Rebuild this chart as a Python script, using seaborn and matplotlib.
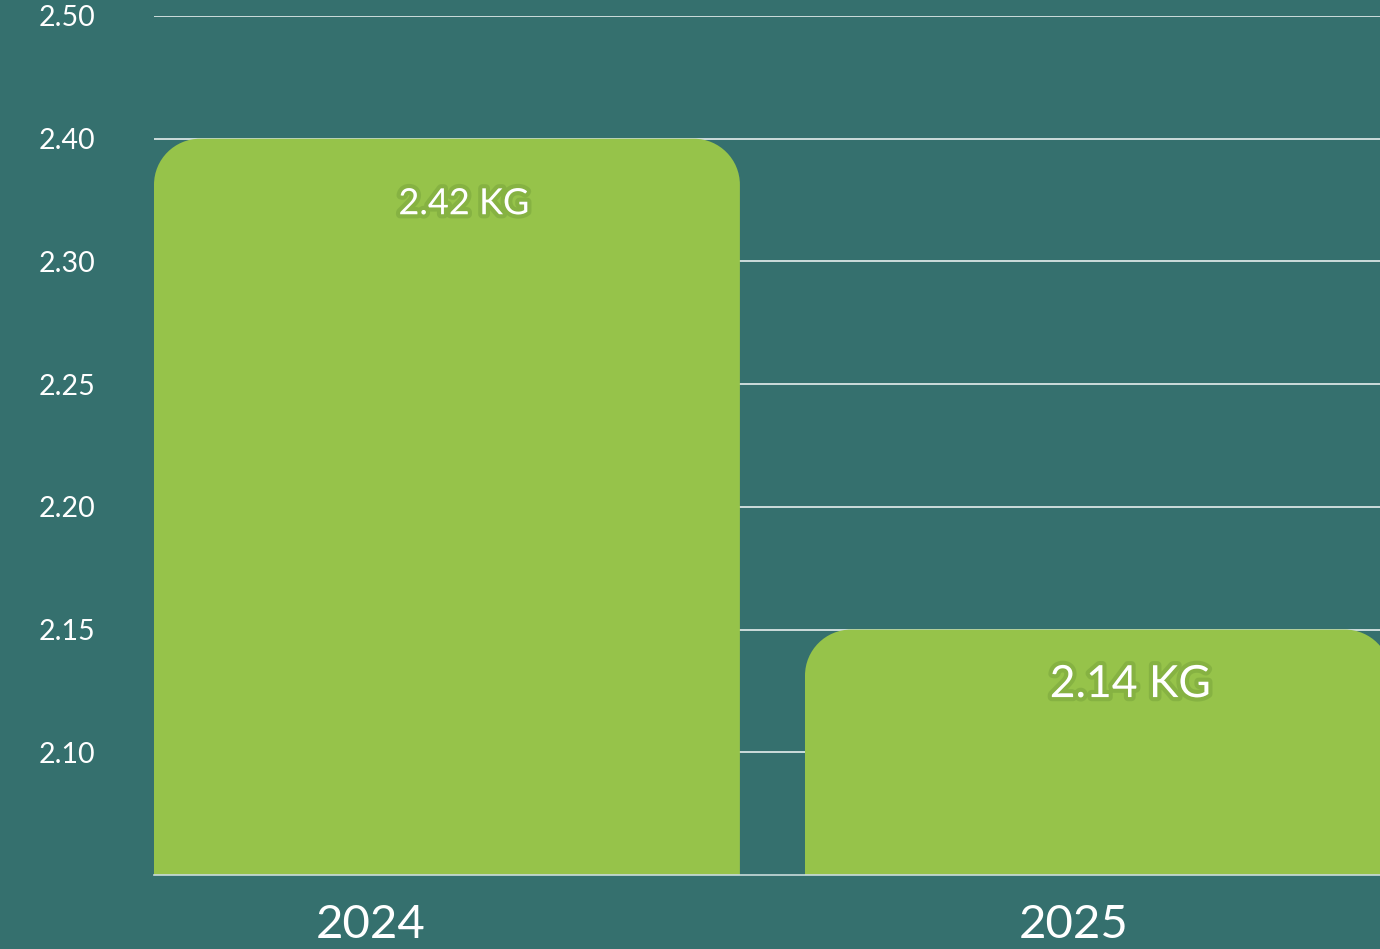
import matplotlib
matplotlib.use("Agg")
import matplotlib.pyplot as plt
import matplotlib.patheffects as pe
from matplotlib.path import Path
from matplotlib.patches import PathPatch
import seaborn as sns
import pandas as pd

# data (bar tops sit on the axis scale, labels are the printed ones)
years = ["2024", "2025"]
bar_heights = [2.35, 2.15]
bar_labels = ["2.42 KG", "2.14 KG"]
ytick_values = [2.10, 2.15, 2.20, 2.25, 2.30, 2.35, 2.40]
ytick_labels = ["2.10", "2.15", "2.20", "2.25", "2.30", "2.40", "2.50"]

BG = "#35706e"
GREEN = "#96c34a"

sns.set_theme(style="white")
plt.rcParams["font.family"] = ["Lato", "DejaVu Sans"]

df = pd.DataFrame({"year": years, "value": bar_heights})

fig = plt.figure(figsize=(13.8, 9.49), dpi=100, facecolor=BG)
ax = fig.add_axes([154 / 1380, 74 / 949, 1226 / 1380, 859 / 949])
ax.set_facecolor(BG)

sns.barplot(data=df, x="year", y="value", color=GREEN, width=0.9,
            saturation=1, ax=ax, zorder=2)

# second bar runs off the right edge of the chart
px_x = 651
px_y = 859 / 0.35
ax.set_xlim(-0.45, -0.45 + 1226 / px_x)
ax.set_ylim(2.05, 2.40)


def rounded_top(x0, y0, w, h, rx, ry):
    k = 0.5523
    x1, y1 = x0 + w, y0 + h
    verts = [
        (x0, y0), (x0, y1 - ry),
        (x0, y1 - ry + k * ry), (x0 + rx - k * rx, y1), (x0 + rx, y1),
        (x1 - rx, y1),
        (x1 - rx + k * rx, y1), (x1, y1 - ry + k * ry), (x1, y1 - ry),
        (x1, y0), (x0, y0),
    ]
    codes = [Path.MOVETO, Path.LINETO,
             Path.CURVE4, Path.CURVE4, Path.CURVE4,
             Path.LINETO,
             Path.CURVE4, Path.CURVE4, Path.CURVE4,
             Path.LINETO, Path.CLOSEPOLY]
    return Path(verts, codes)


# swap the square bars for bars with rounded top corners (~46 px radius)
bottom = ax.get_ylim()[0]
for patch in list(ax.patches):
    x0, w = patch.get_x(), patch.get_width()
    top = patch.get_y() + patch.get_height()
    patch.remove()
    path = rounded_top(x0, bottom, w, top - bottom, 46 / px_x, 46 / px_y)
    ax.add_patch(PathPatch(path, facecolor=GREEN, edgecolor="none", zorder=2))

# value labels inside the bars
shadow = [pe.withStroke(linewidth=6, foreground="#3f6a22", alpha=0.18)]
label_dx = [0.026, 0.05]
label_dy = [-65, -55]
label_size = [26, 32]
for i, (val, txt) in enumerate(zip(bar_heights, bar_labels)):
    ax.annotate(txt, (i + label_dx[i], val), xytext=(0, label_dy[i]),
                textcoords="offset pixels", ha="center", va="center",
                color="white", fontsize=label_size[i], path_effects=shadow,
                zorder=4)

ax.set_yticks(ytick_values)
ax.set_yticklabels(ytick_labels)
ax.yaxis.grid(True, color="#e6efee", linewidth=1.2, zorder=0)
ax.set_axisbelow(True)

xtick_shift = [-0.117, -0.038]
ax.set_xticks([i + s for i, s in enumerate(xtick_shift)])
ax.set_xticklabels(years)

ax.tick_params(axis="y", length=0, pad=42, labelsize=20.5, labelcolor="white")
ax.tick_params(axis="x", length=0, pad=21, labelsize=34, labelcolor="white")
ax.set_xlabel("")
ax.set_ylabel("")

for side in ["top", "right", "left"]:
    ax.spines[side].set_visible(False)
ax.spines["bottom"].set_color("#c9dcdb")
ax.spines["bottom"].set_linewidth(1.2)
ax.spines["bottom"].set_zorder(3)

fig.savefig("out.png", dpi=100, facecolor=BG)
